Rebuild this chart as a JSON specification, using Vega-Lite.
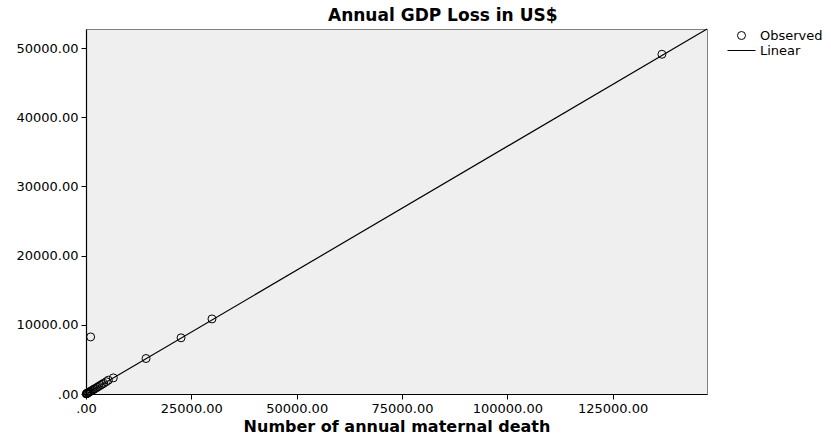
{
  "$schema": "https://vega.github.io/schema/vega-lite/v6.json",
  "autosize": {"type": "none"},
  "width": 621,
  "height": 365,
  "padding": {"left": 86, "top": 29, "right": 124, "bottom": 41},
  "background": "white",
  "title": {
    "text": "Annual GDP Loss in US$",
    "anchor": "start",
    "frame": "group",
    "dx": 242,
    "offset": 2,
    "font": "DejaVu Sans",
    "fontSize": 17,
    "fontWeight": "bold",
    "color": "black"
  },
  "datasets": {
    "observed": [
      {"deaths": 136700, "gdp": 49100, "series": "Observed"},
      {"deaths": 29900, "gdp": 10850, "series": "Observed"},
      {"deaths": 22560, "gdp": 8120, "series": "Observed"},
      {"deaths": 1100, "gdp": 8250, "series": "Observed"},
      {"deaths": 14250, "gdp": 5130, "series": "Observed"},
      {"deaths": 6480, "gdp": 2330, "series": "Observed"},
      {"deaths": 5300, "gdp": 2000, "series": "Observed"},
      {"deaths": 4800, "gdp": 1780, "series": "Observed"},
      {"deaths": 4200, "gdp": 1550, "series": "Observed"},
      {"deaths": 3800, "gdp": 1400, "series": "Observed"},
      {"deaths": 3400, "gdp": 1250, "series": "Observed"},
      {"deaths": 3000, "gdp": 1100, "series": "Observed"},
      {"deaths": 2600, "gdp": 950, "series": "Observed"},
      {"deaths": 2200, "gdp": 800, "series": "Observed"},
      {"deaths": 1900, "gdp": 700, "series": "Observed"},
      {"deaths": 1600, "gdp": 580, "series": "Observed"},
      {"deaths": 1300, "gdp": 470, "series": "Observed"},
      {"deaths": 1000, "gdp": 370, "series": "Observed"},
      {"deaths": 800, "gdp": 290, "series": "Observed"},
      {"deaths": 600, "gdp": 220, "series": "Observed"},
      {"deaths": 450, "gdp": 160, "series": "Observed"},
      {"deaths": 300, "gdp": 110, "series": "Observed"},
      {"deaths": 200, "gdp": 70, "series": "Observed"},
      {"deaths": 120, "gdp": 45, "series": "Observed"},
      {"deaths": 60, "gdp": 20, "series": "Observed"}
    ],
    "fit": [
      {"deaths": 0, "gdp": 0},
      {"deaths": 147400, "gdp": 52750}
    ]
  },
  "layer": [
    {
      "data": {"name": "fit"},
      "mark": {"type": "line", "color": "black", "strokeWidth": 1.2},
      "encoding": {
        "x": {"field": "deaths", "type": "quantitative"},
        "y": {"field": "gdp", "type": "quantitative"}
      }
    },
    {
      "data": {"name": "observed"},
      "mark": {"type": "point", "filled": false, "color": "black", "strokeWidth": 1, "size": 64, "opacity": 1},
      "encoding": {
        "x": {
          "field": "deaths",
          "type": "quantitative",
          "scale": {"domain": [0, 147400], "nice": false, "zero": false},
          "axis": {
            "title": "Number of annual maternal death",
            "values": [0, 25000, 50000, 75000, 100000, 125000],
            "labelExpr": "datum.value == 0 ? '.00' : format(datum.value, '.2f')",
            "labelFlush": false,
            "titleBaseline": "alphabetic",
            "titleY": 37
          }
        },
        "y": {
          "field": "gdp",
          "type": "quantitative",
          "scale": {"domain": [0, 52750], "nice": false, "zero": false},
          "axis": {
            "title": null,
            "values": [0, 10000, 20000, 30000, 40000, 50000],
            "labelExpr": "datum.value == 0 ? '.00' : format(datum.value, '.2f')",
            "labelFlush": false
          }
        },
        "shape": {
          "field": "series",
          "type": "nominal",
          "scale": {"domain": ["Observed", "Linear"], "range": ["circle", "M-3.5,0H3.5"]},
          "legend": {
            "title": null,
            "orient": "none",
            "legendX": 649,
            "legendY": 0,
            "padding": 0,
            "symbolSize": 64,
            "symbolStrokeColor": "black",
            "symbolFillColor": "transparent",
            "symbolStrokeWidth": 1,
            "labelOffset": 12,
            "rowPadding": 1,
            "labelFont": "DejaVu Sans",
            "labelFontSize": 13,
            "labelColor": "black"
          }
        }
      }
    }
  ],
  "config": {
    "view": {"fill": "#EFEFEF", "stroke": "#808080", "strokeWidth": 1},
    "axis": {
      "grid": false,
      "domainColor": "black",
      "domainWidth": 1.2,
      "tickColor": "black",
      "tickSize": 5,
      "labelFont": "DejaVu Sans",
      "labelFontSize": 13,
      "labelColor": "black",
      "labelPadding": 3,
      "titleFont": "DejaVu Sans",
      "titleFontSize": 16,
      "titleFontWeight": "bold",
      "titleColor": "black"
    }
  }
}
